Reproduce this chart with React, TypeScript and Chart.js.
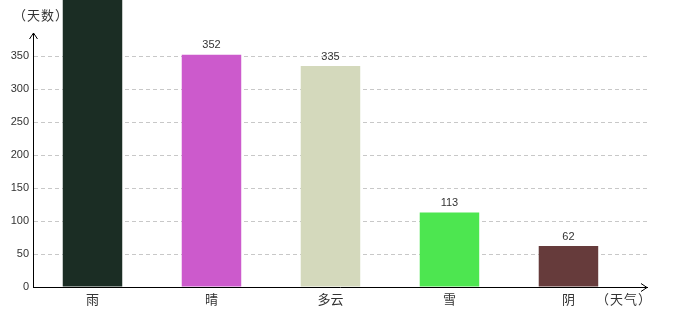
import React, { useEffect, useRef } from "react";
import { Chart, registerables } from "chart.js";

Chart.register(...registerables);

// Days per weather type
const categories = ["雨", "晴", "多云", "雪", "阴"];
const days = [480, 352, 335, 113, 62];
const barColors = ["#1b2d24", "#cc5acc", "#d4d9bc", "#4de650", "#663b3b"];
const yTicks = [0, 50, 100, 150, 200, 250, 300, 350];

const yTitle = "（天数）";
const xTitle = "（天气）";

const TEXT = "#333";
const NUM_FONT = "11px 'Liberation Sans', Arial, sans-serif";
const CJK_FONT = "13px 'Noto Sans CJK SC', sans-serif";

// Axis arrows, axis titles and value labels above each bar
const decorations = {
  id: "decorations",
  afterDatasetsDraw(chart: any) {
    const { ctx, chartArea } = chart;
    const { left, right, top, bottom } = chartArea;
    ctx.save();
    ctx.strokeStyle = "#000";
    ctx.lineWidth = 1;
    // y-axis arrow head
    ctx.beginPath();
    ctx.moveTo(left - 4 + 0.5, top + 6);
    ctx.lineTo(left + 0.5, top);
    ctx.lineTo(left + 4 + 0.5, top + 6);
    ctx.stroke();
    // x-axis arrow head
    ctx.beginPath();
    ctx.moveTo(right - 6, bottom - 4 + 0.5);
    ctx.lineTo(right, bottom + 0.5);
    ctx.lineTo(right - 6, bottom + 4 + 0.5);
    ctx.stroke();

    // axis titles
    ctx.fillStyle = TEXT;
    ctx.font = CJK_FONT;
    ctx.textBaseline = "middle";
    ctx.textAlign = "left";
    try {
      ctx.letterSpacing = "1px";
    } catch (e) {}
    ctx.fillText(yTitle, 13, 15);
    ctx.fillText(xTitle, 596, 299);
    try {
      ctx.letterSpacing = "0px";
    } catch (e) {}

    // value labels
    const meta = chart.getDatasetMeta(0);
    ctx.font = NUM_FONT;
    ctx.textAlign = "center";
    ctx.textBaseline = "bottom";
    meta.data.forEach((bar: any, i: number) => {
      ctx.fillText(String(days[i]), bar.x, bar.y - 4);
    });
    ctx.restore();
  },
};

export default function App() {
  const ref = useRef<HTMLCanvasElement | null>(null);

  useEffect(() => {
    if (!ref.current) return;
    const chart = new Chart(ref.current, {
      type: "bar",
      data: {
        datasets: [
          {
            data: categories.map((_, i) => ({ x: i, y: days[i] })),
            backgroundColor: barColors,
            borderWidth: 0,
            barPercentage: 0.5,
            categoryPercentage: 1,
            clip: false as any,
          },
        ],
      },
      options: {
        animation: false,
        responsive: false,
        maintainAspectRatio: false,
        layout: { padding: { top: 33, right: 33, left: 0, bottom: 0 } },
        plugins: {
          legend: { display: false },
          tooltip: { enabled: false },
        },
        scales: {
          x: {
            type: "linear",
            offset: false,
            min: -0.5,
            max: 4.66,
            afterFit: (s: any) => {
              s.height = 33;
            },
            afterBuildTicks: (s: any) => {
              s.ticks = categories.map((_, i) => ({ value: i }));
            },
            grid: { display: false, drawTicks: false },
            border: { display: true, color: "#000", width: 1 },
            ticks: {
              padding: 4,
              color: TEXT,
              font: { family: "'Noto Sans CJK SC', sans-serif", size: 13 },
              maxRotation: 0,
              autoSkip: false,
              callback: (v: any) => categories[v as number] ?? "",
            },
          },
          y: {
            min: 0,
            max: 385,
            afterFit: (s: any) => {
              s.width = 33;
            },
            afterBuildTicks: (s: any) => {
              s.ticks = yTicks.map((v) => ({ value: v }));
            },
            grid: {
              color: (c: any) => (c.tick && c.tick.value === 0 ? "rgba(0,0,0,0)" : "#c8c8c8"),
              drawTicks: false,
              lineWidth: 1,
            },
            border: { display: true, color: "#000", width: 1, dash: [4, 3] as any },
            ticks: {
              padding: 4,
              color: TEXT,
              font: { family: "'Liberation Sans', Arial, sans-serif", size: 11 },
            },
          },
        },
      },
      plugins: [decorations],
    });
    return () => chart.destroy();
  }, []);

  return (
    <div style={{ position: "fixed", left: 0, top: 0, width: 680, height: 320, background: "#fff" }}>
      <canvas ref={ref} width={680} height={320} style={{ width: 680, height: 320 }} />
    </div>
  );
}
